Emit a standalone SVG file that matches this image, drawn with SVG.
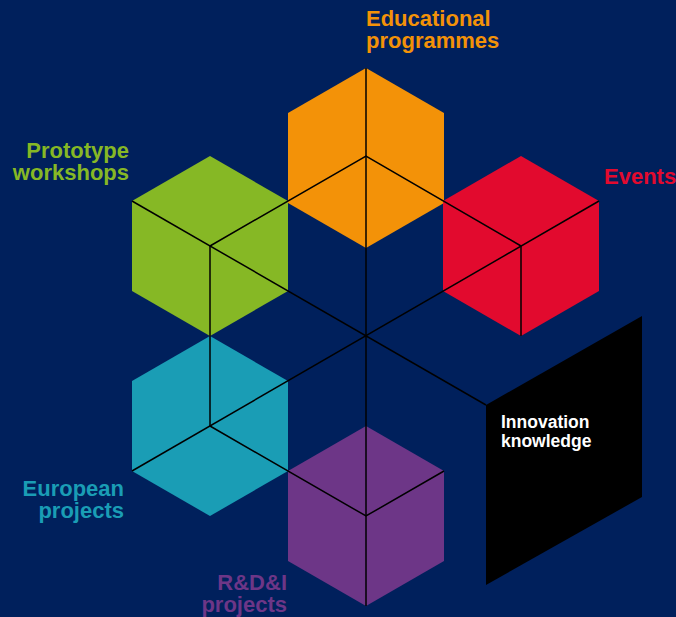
<svg xmlns="http://www.w3.org/2000/svg" width="676" height="617" viewBox="0 0 676 617">
<style>
.lbl{font-family:"Liberation Sans",Arial,sans-serif;font-weight:bold;font-size:22px}
.wht{font-family:"Liberation Sans",Arial,sans-serif;font-weight:bold;font-size:17.5px;fill:#fff}
.edge{stroke:#000;stroke-width:1.5;fill:none}
</style>
<rect width="676" height="617" fill="#00205c"/>
<g id="node-educational">
<polygon points="366,68 444,113 444,203 366,248 288,203 288,113" fill="#f39208"/>
<text class="lbl" fill="#f39208" x="366" y="26">Educational</text>
<text class="lbl" fill="#f39208" x="366" y="48">programmes</text>
</g>
<g id="node-events">
<polygon points="521,156 599,201 599,291 521,336 443,291 443,201" fill="#e20a2e"/>
<text class="lbl" fill="#e20a2e" x="604" y="184">Events</text>
</g>
<g id="node-prototype">
<polygon points="210,156 288,201 288,291 210,336 132,291 132,201" fill="#86b825"/>
<text class="lbl" fill="#86b825" x="129" y="158" text-anchor="end">Prototype</text>
<text class="lbl" fill="#86b825" x="129" y="180" text-anchor="end">workshops</text>
</g>
<g id="node-european">
<polygon points="210,336 288,381 288,471 210,516 132,471 132,381" fill="#1a9db5"/>
<text class="lbl" fill="#1a9db5" x="124" y="496" text-anchor="end">European</text>
<text class="lbl" fill="#1a9db5" x="124" y="518" text-anchor="end">projects</text>
</g>
<g id="node-rdi">
<polygon points="366,426 444,471 444,561 366,606 288,561 288,471" fill="#6d3687"/>
<text class="lbl" fill="#6d3687" x="287" y="590" text-anchor="end">R&amp;D&amp;I</text>
<text class="lbl" fill="#6d3687" x="287" y="612" text-anchor="end">projects</text>
</g>
<g id="node-innovation">
<polygon points="486,405 642,316 642,497 486,585" fill="#000"/>
<text class="wht" x="501" y="428">Innovation</text>
<text class="wht" x="501" y="447">knowledge</text>
</g>
<g id="connectors">
<line class="edge" x1="366" y1="68" x2="366" y2="606"/>
<line class="edge" x1="210" y1="246" x2="210" y2="426"/>
<line class="edge" x1="521" y1="246" x2="521" y2="336"/>
<line class="edge" x1="132" y1="201" x2="486" y2="405"/>
<line class="edge" x1="599" y1="201" x2="132" y2="471"/>
<polyline class="edge" points="210,246 366,156 521,246"/>
<polyline class="edge" points="210,426 366,516 444,471"/>
</g>
</svg>
